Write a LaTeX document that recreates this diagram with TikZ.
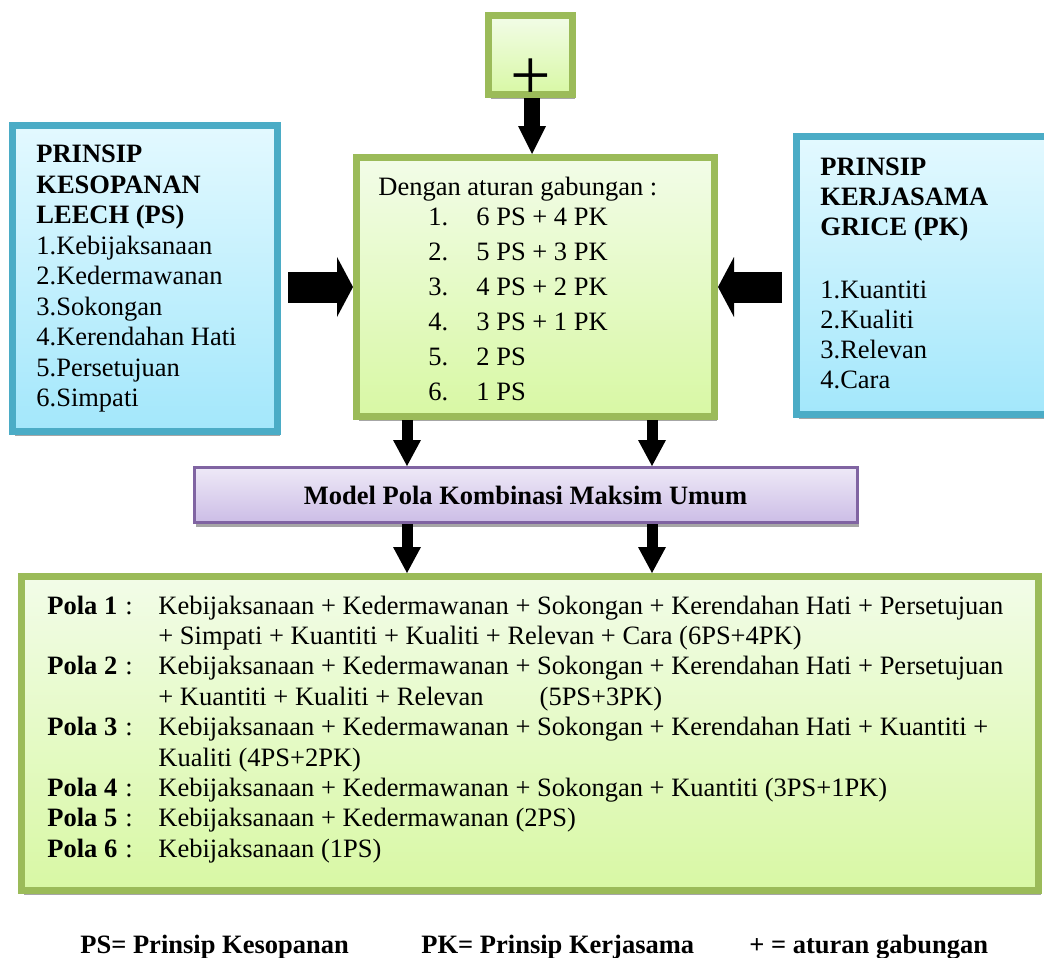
\documentclass[tikz,border=0pt]{standalone}
\usepackage{fontspec}
\setmainfont{Liberation Serif}
\usetikzlibrary{arrows.meta,shadows}

\definecolor{psline}{HTML}{4BACC6}
\definecolor{pstop}{HTML}{E3F9FF}
\definecolor{psbot}{HTML}{A3E7FB}
\definecolor{pkline}{HTML}{9BBB59}
\definecolor{pktop}{HTML}{F2FCE8}
\definecolor{pkbot}{HTML}{D8F8A4}
\definecolor{mdline}{HTML}{8064A2}
\definecolor{mdtop}{HTML}{EEE9F7}
\definecolor{mdbot}{HTML}{CCBDE6}

\newcommand{\bodysize}{\fontsize{13.25pt}{15.5pt}\selectfont}

\tikzset{
  box/.style={draw, line width=3.5pt, inner sep=0pt,
    drop shadow={shadow xshift=1pt, shadow yshift=-2pt, fill=black!35, opacity=1}},
  bluebox/.style={box, draw=psline, top color=pstop, bottom color=psbot},
  greenbox/.style={box, draw=pkline, top color=pktop, bottom color=pkbot},
  modelbox/.style={box, line width=1.5pt, draw=mdline, top color=mdtop, bottom color=mdbot},
  sidearrow/.style={line width=15.5pt, -{Triangle[width=30pt,length=8pt,line width=0pt]}},
  downarrow/.style={line width=5.5pt, -{Triangle[width=14pt,length=13pt,line width=0pt]}},
  txt/.style={anchor=base west, inner sep=0pt},
}

\begin{document}
\begin{tikzpicture}[x=0.5pt, y=-0.5pt, font=\bodysize]
\useasboundingbox (0,0) rectangle (1044,958);

\node[greenbox, minimum width=84pt*0.5, minimum height=79pt*0.5] (plus) at (530.5,55) {};
\node[inner sep=0pt, font=\fontsize{36pt}{36pt}\selectfont] (plussign) at (531,79) {+};
\node[bluebox, minimum width=265pt*0.5, minimum height=306pt*0.5] (ps) at (145,278.5) {};
\node[greenbox, minimum width=358pt*0.5, minimum height=259pt*0.5] (ctr) at (535.5,287) {};
\node[bluebox, minimum width=254pt*0.5, minimum height=278pt*0.5] (pk) at (923.5,275.5) {};
\node[modelbox, minimum width=663pt*0.5, minimum height=55pt*0.5, font=\bodysize\bfseries] (model) at (525.5,495) {Model Pola Kombinasi Maksim Umum};
\node[greenbox, minimum width=1017pt*0.5, minimum height=314pt*0.5] (pola) at (530,733.5) {};

\draw[line width=8pt, -{Triangle[width=14pt,length=14pt,line width=0pt]}] (532,0 |- plus.south) -- (532,0 |- ctr.north);
\draw[sidearrow, shorten <=3.5pt] (ps.east |- ctr.west) -- (ctr.west);
\draw[sidearrow, shorten <=5.5pt] (pk.west |- ctr.east) -- (ctr.east);
\foreach \x in {407,652} {
  \draw[downarrow] (\x,0 |- ctr.south) -- (\x,0 |- model.north);
  \draw[downarrow] (\x,0 |- model.south) -- (\x,0 |- pola.north);
}

\foreach \t [count=\i from 0] in {PRINSIP,KESOPANAN,LEECH (PS)}
  \node[txt, font=\bodysize\bfseries] (pst\i) at (36,162.5+30.5*\i) {\t};
\foreach \t [count=\i] in {Kebijaksanaan,Kedermawanan,Sokongan,Kerendahan Hati,Persetujuan,Simpati}
  \node[txt] (ps\i) at (36,223.5+30.5*\i) {\i.\t};

\node[txt] (rule) at (378,195) {Dengan aturan gabungan :};
\foreach \t [count=\i] in {6 PS + 4 PK,5 PS + 3 PK,4 PS + 2 PK,3 PS + 1 PK,2 PS,1 PS} {
  \node[txt] (no\i) at (428,190+35*\i) {\i.};
  \node[txt] (rule\i) at (476,190+35*\i) {\t};
}

\foreach \t [count=\i from 0] in {PRINSIP,KERJASAMA,GRICE (PK)}
  \node[txt, font=\bodysize\bfseries] (pkt\i) at (820,175+30*\i) {\t};
\foreach \t [count=\i] in {Kuantiti,Kualiti,Relevan,Cara}
  \node[txt] (pk\i) at (820,268+30*\i) {\i.\t};

\foreach \n/\k in {1/0,2/2,3/4,4/6,5/7,6/8} {
  \node[txt, font=\bodysize\bfseries] (polan\n) at (47,614+30.4*\k) {Pola \n};
  \node[txt] (colon\n) at (125,614+30.4*\k) {:};
}
\foreach \t [count=\k from 0] in {
  Kebijaksanaan + Kedermawanan + Sokongan + Kerendahan Hati + Persetujuan,
  + Simpati + Kuantiti + Kualiti + Relevan + Cara (6PS+4PK),
  Kebijaksanaan + Kedermawanan + Sokongan + Kerendahan Hati + Persetujuan,
  + Kuantiti + Kualiti + Relevan\hspace{28pt}(5PS+3PK),
  Kebijaksanaan + Kedermawanan + Sokongan + Kerendahan Hati + Kuantiti +,
  Kualiti (4PS+2PK),
  Kebijaksanaan + Kedermawanan + Sokongan + Kuantiti (3PS+1PK),
  Kebijaksanaan + Kedermawanan (2PS),
  Kebijaksanaan (1PS)}
  \node[txt] (line\k) at (158,614+30.4*\k) {\t};

\node[txt, font=\bodysize\bfseries] (keyps) at (80,953) {PS= Prinsip Kesopanan};
\node[txt, font=\bodysize\bfseries] (keypk) at (421,953) {PK= Prinsip Kerjasama};
\node[txt, font=\bodysize\bfseries] (keyplus) at (749,953) {+ = aturan gabungan};
\end{tikzpicture}
\end{document}
